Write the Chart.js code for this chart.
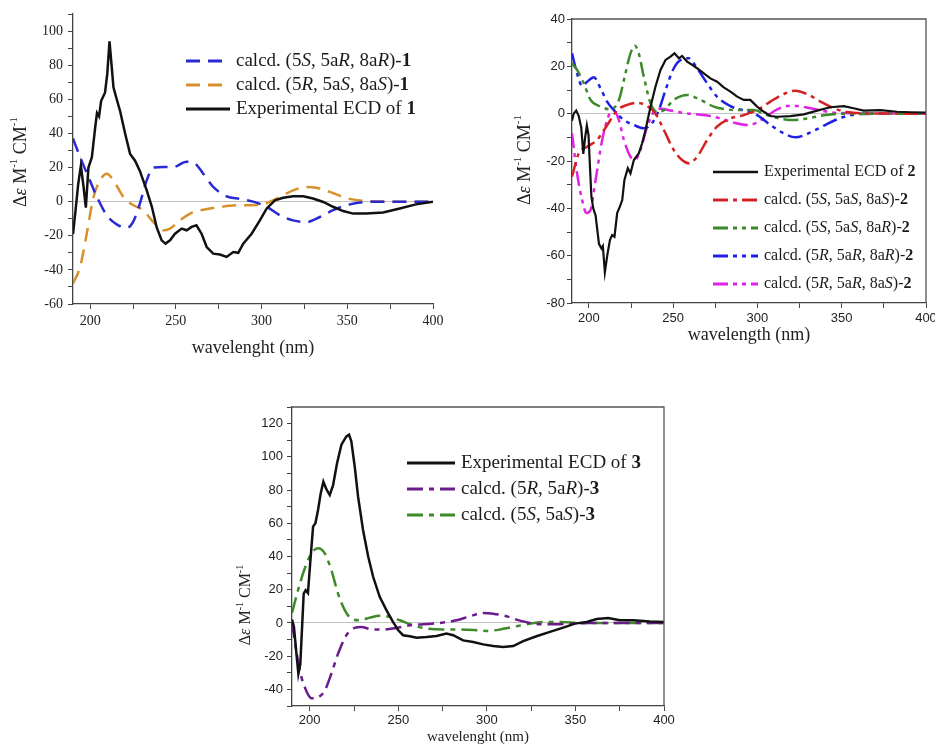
<!DOCTYPE html>
<html>
<head>
<meta charset="utf-8">
<script src="https://cdn.jsdelivr.net/npm/chart.js@4.4.1/dist/chart.umd.min.js"></script>
<style>
body { margin: 0; width: 935px; height: 746px; background: #fff; position: relative; overflow: hidden; }
canvas { position: absolute; }
#c1 { left: 0; top: 0; }
#c2 { left: 470px; top: 0; }
#c3 { left: 230px; top: 395px; }
</style>
</head>
<body>
<canvas id="c1" width="460" height="360"></canvas>
<canvas id="c2" width="470" height="347"></canvas>
<canvas id="c3" width="460" height="351"></canvas>
<script>
// tick values (labels shown every 20 on y, every 50 on x)
const xTicks = [200, 225, 250, 275, 300, 325, 350, 375, 400];
const yTicks1 = [-60, -50, -40, -30, -20, -10, 0, 10, 20, 30, 40, 50, 60, 70, 80, 90, 100, 110];
const yTicks2 = [-80, -70, -60, -50, -40, -30, -20, -10, 0, 10, 20, 30, 40];
const yTicks3 = [-50, -40, -30, -20, -10, 0, 10, 20, 30, 40, 50, 60, 70, 80, 90, 100, 110, 120, 130];

// compound 1  [wavelength, delta eps]
const exp1 = [[190,-19],[191.5,-5],[193,10],[194.6,21],[196,10],[197.5,-3.5],[199,20],[201,26],[203,44],[204,52],[205.2,50],[206.4,59],[208.7,64],[210,75],[211.3,94],[212.5,80],[213.6,67],[215.5,60],[217.5,53],[220.4,40],[223.3,28],[226.2,24],[229,18],[233,6.6],[236,-3],[238.8,-15],[241.7,-22.7],[244,-24.6],[246.6,-22.7],[249.5,-18.8],[253.4,-15.8],[256.3,-16.8],[259.2,-14.8],[262,-13.9],[265,-18.8],[268,-26.6],[271.8,-30.5],[275.7,-31],[279.6,-32.4],[283.5,-29.5],[286.4,-30],[289.3,-24.6],[294.2,-18.8],[299,-11],[303,-4],[307.8,0.8],[312.6,2.3],[318.4,3.1],[324.3,3.1],[330,1.8],[336,-0.2],[341.7,-3],[347.6,-5.5],[353.4,-7],[361,-7],[370.9,-6.4],[380.6,-4],[390,-1.6],[400,0]];
const calc1a = [[190,37],[194.2,26],[199,14.5],[204,2.7],[209.7,-8],[215.5,-13.3],[221.4,-15.4],[225,-12],[229,-1.2],[233,12.5],[236.9,20],[242.7,20.3],[248.5,20.3],[256.3,23.4],[260.2,23],[266,16.4],[271.8,8.6],[279.6,3.1],[287.4,1.6],[295.1,0],[303,-3],[310.7,-8],[318.4,-11],[326.2,-12],[334,-9],[341.7,-5],[351.5,-1.6],[361,-0.2],[380,0],[400,0]];
const calc1b = [[190,-48],[194.2,-38],[198,-18.8],[202,2.7],[205.8,12.5],[209.7,16.4],[213.6,12.5],[219.4,2.7],[225,-2],[231,-5],[236.9,-12],[242.7,-16.8],[246.6,-15.8],[252.4,-11],[258.3,-7],[266,-4.7],[275.7,-3.1],[287.4,-2.1],[299,-2],[304.9,0],[310.7,2.7],[318.4,6.6],[326.2,8.6],[332,8.2],[339.8,5.7],[349.5,2.1],[361,0.4],[380,0],[400,0]];

// compound 2
const exp2 = [[190,-3],[191,0],[192.5,1.3],[194,-1],[195.5,-6],[196.7,-17],[197.8,-10],[198.8,-5],[199.8,-9],[200.5,-20],[201.5,-35],[202.6,-40],[204,-43],[206,-55],[207.5,-57],[208.3,-56],[209.5,-67],[210.9,-60],[212.5,-53.4],[213.8,-51.3],[215.2,-52],[216.8,-42],[218.4,-39.3],[219.8,-36.5],[221.1,-28],[223.1,-23],[224.7,-25.2],[226.7,-19.6],[229.6,-16.8],[231.6,-12.5],[233.6,-6.9],[236.6,3],[239.5,11.4],[242.5,18.5],[245.5,22.7],[248.4,24.1],[250.8,25.5],[253.4,23.4],[255.3,24.4],[258.3,22],[261.3,20.6],[264.2,19.2],[268.2,17],[272.1,14.9],[276.1,13.5],[280,11.1],[284,9.3],[288,7.2],[291.9,5.8],[295.8,5.8],[299.8,3],[303.8,0.8],[307.7,-1],[311.7,-1.3],[319.6,-1],[327.5,-0.3],[335.4,1.3],[343.3,2.7],[351.2,3.2],[357,2.3],[363,1.3],[372.9,1.5],[382.8,0.8],[390.7,0.6],[400,0.4]];
const calc2a = [[190,-26.6],[194,-16.8],[199,-14],[205,-11],[209,-6.9],[212.8,-2.7],[216.8,1.5],[222.7,3.7],[228.7,4.6],[234.6,3.2],[239.5,0],[244.5,-6.9],[250.4,-15.4],[255.3,-19.6],[259.3,-21],[264.2,-18.2],[270.2,-11.1],[276,-5.5],[284,-2],[291.9,-0.6],[299.8,1.5],[307.7,5.1],[315.6,8.3],[322.5,9.7],[329.4,8.3],[337.4,5.1],[345.3,2.3],[353.2,0.7],[367,0.1],[400,0]];
const calc2b = [[190,21.3],[193,18.5],[197,12.8],[201,5.8],[207,3],[212.8,1.8],[217.8,5.8],[221.7,17],[224.7,25.5],[227.3,28.7],[229.6,25.5],[232.6,15.6],[236.6,4.4],[240.5,0.8],[244.5,1.5],[250.4,5.8],[258.3,7.9],[266.2,5.8],[274.1,3],[282,1.8],[289.9,1.5],[297.8,1.5],[305.7,-0.6],[313.6,-2.1],[321.5,-2.7],[329.4,-2],[339.3,-0.7],[351,0],[400,0]];
const calc2c = [[190,25.5],[193,17],[196,11.7],[199,13.5],[203,15.4],[206.9,10.7],[210.9,5],[214.8,1.5],[220.8,-2.7],[226.7,-4.8],[232.6,-6.2],[237.5,-4],[241.5,1.5],[245.5,10],[250.4,19.2],[255.3,23],[259.3,23.4],[264.2,19.2],[270.2,12.8],[276,7.2],[284,3.2],[291.9,1.3],[299.8,-0.6],[307.7,-4.8],[315.6,-8.3],[322.5,-10],[329.4,-8.6],[337.4,-5.8],[345.3,-3],[353.2,-1],[363,-0.1],[400,0]];
const calc2d = [[190,-8.3],[193,-25.2],[196,-36.5],[198.6,-42],[201,-40.7],[204,-28],[207.9,-11.1],[211.9,-0.6],[214.8,1.5],[217.8,-2.7],[220.8,-11.1],[224.7,-18.2],[227.7,-19.3],[230.6,-15.4],[234.6,-5.5],[238.5,0.7],[242.5,2.1],[248.4,1.3],[258.3,0.1],[268.2,-0.6],[278,-2],[286,-3.8],[293.9,-4.8],[299.8,-3.8],[305.7,-1],[311.7,1.8],[317.6,3.2],[323.5,3.2],[331.4,2.3],[339.3,1.1],[347.2,0.3],[400,0]];

// compound 3
const exp3 = [[190,2],[191.1,-2.4],[192.5,-18.5],[193.6,-30.6],[194.7,-24.6],[195.7,-2.4],[196.6,17.7],[197.7,19.7],[199,18],[200.4,37.8],[201.9,58],[203.2,60],[204.7,68],[206.2,78],[207.7,85],[209.4,80.5],[211.3,77],[213.2,83],[215.4,96],[217.9,107.3],[220.7,112.3],[222.2,113.3],[223.5,109.3],[225.4,94.2],[227.3,76],[230.1,56],[233,40],[235.8,27.8],[239.5,15.7],[243.3,7.7],[247,0.6],[250,-4.4],[252.7,-7.4],[256.5,-8],[260.3,-8.9],[265.9,-8.5],[271.6,-7.8],[277.2,-6.4],[281,-7.4],[286.6,-10.5],[292.3,-11.5],[297.9,-12.9],[303.6,-13.9],[309.2,-14.5],[314.9,-13.9],[320.5,-10.9],[328,-8],[335.6,-5.4],[343.1,-2.8],[349.7,-0.4],[356.3,0.6],[362,2.4],[368.5,3],[375.1,1.6],[382.7,1.6],[392,0.8],[400,0.6]];
const calc3a = [[190,0.6],[191.5,-10.5],[194.4,-28.6],[197.2,-38.7],[201,-45.3],[204.7,-44.7],[208.5,-40.7],[212.2,-30.6],[216,-18.5],[220.7,-7.4],[225.4,-3],[229.2,-2.4],[233.9,-3.6],[241.4,-4],[249,-3],[256.5,-1.4],[264,-0.8],[273.4,0],[282.9,1.6],[290.4,4],[297.9,6],[303.6,5.6],[311.1,4],[316.8,2],[324.3,0],[331.8,-0.8],[339.4,-0.8],[348.8,-0.4],[358.2,0],[400,0]];
const calc3b = [[190,6],[193.4,19.7],[197.2,32.8],[201,41.9],[204.7,44.9],[208.5,41.9],[212.2,31.8],[216,17.7],[219.8,7.7],[223.5,2.6],[228.2,1.6],[233.9,3.2],[239.5,4.4],[245.2,3.6],[250.8,1.6],[258.4,-1.4],[265.9,-3.4],[275.3,-4],[284.7,-4],[294.2,-4.4],[299.8,-4.8],[307.3,-4],[314.9,-2.4],[322.4,-0.8],[331.8,0.6],[341.2,0.6],[354.4,0],[400,0]];

const SERIF = 'Liberation Serif';
const SANS = 'Liberation Sans';

// {x} italic, [x] bold, <x> superscript
function parseRich(str) {
    const out = [];
    const re = /\{([^}]*)\}|\[([^\]]*)\]|<([^>]*)>|([^{\[<]+)/g;
    let m;
    while ((m = re.exec(str))) {
        if (m[1] !== undefined) out.push({ t: m[1], s: 'i' });
        else if (m[2] !== undefined) out.push({ t: m[2], s: 'b' });
        else if (m[3] !== undefined) out.push({ t: m[3], s: 'sup' });
        else out.push({ t: m[4], s: '' });
    }
    return out;
}

function drawRich(ctx, str, x, y, size, fam, draw) {
    parseRich(str).forEach(p => {
        let fs = size, dy = 0, st = '';
        if (p.s === 'i') st = 'italic ';
        if (p.s === 'b') st = 'bold ';
        if (p.s === 'sup') { fs = Math.round(size * 0.62); dy = -size * 0.36; }
        ctx.font = st + fs + 'px "' + fam + '"';
        if (draw) ctx.fillText(p.t, x, y + dy);
        x += ctx.measureText(p.t).width;
    });
    return x;
}

const decor = {
    id: 'decor',
    afterDraw(chart, args, o) {
        const ctx = chart.ctx, a = chart.chartArea;
        ctx.save();
        if (o.box) {
            ctx.strokeStyle = '#555';
            ctx.lineWidth = 1.3;
            ctx.beginPath();
            ctx.moveTo(a.left, a.top);
            ctx.lineTo(a.right, a.top);
            ctx.lineTo(a.right, a.bottom);
            ctx.stroke();
        }
        // rotated y title
        ctx.fillStyle = '#222';
        ctx.textBaseline = 'middle';
        ctx.translate(o.yTitleX, o.yTitleY);
        ctx.rotate(-Math.PI / 2);
        const w = drawRich(ctx, o.yTitle, 0, 0, o.yTitleSize, SERIF, false);
        drawRich(ctx, o.yTitle, -w / 2, 0, o.yTitleSize, SERIF, true);
        ctx.restore();

        // legend
        ctx.save();
        ctx.textBaseline = 'middle';
        o.order.forEach((di, i) => {
            const ds = chart.data.datasets[di];
            const y = o.legY + i * o.legGap;
            ctx.strokeStyle = ds.borderColor;
            ctx.lineWidth = ds.borderWidth + 0.5;
            ctx.setLineDash(ds.borderDash || []);
            ctx.beginPath();
            ctx.moveTo(o.legX, y);
            ctx.lineTo(o.legX + o.legLen, y);
            ctx.stroke();
            ctx.setLineDash([]);
            ctx.fillStyle = '#1a1a1a';
            drawRich(ctx, ds.label, o.legX + o.legLen + 6, y, o.legSize, SERIF, true);
        });
        ctx.restore();
    }
};

function line(label, pts, color, width, dash, smooth) {
    return {
        label: label,
        data: pts.map(p => ({ x: p[0], y: p[1] })),
        borderColor: color,
        borderWidth: width,
        borderDash: dash,
        pointRadius: 0,
        tension: 0,
        cubicInterpolationMode: smooth ? 'monotone' : 'default',
        fill: false
    };
}

function axes(s) {
    return {
        x: {
            type: 'linear', min: 190, max: 400,
            afterBuildTicks: sc => { sc.ticks = xTicks.map(v => ({ value: v })); },
            afterFit: sc => { sc.height = s.xH; },
            ticks: { autoSkip: false, maxRotation: 0, padding: s.xPad, color: '#222',
                font: { family: s.tickFam, size: s.tickSize },
                callback: v => v % 50 === 0 ? v : '' },
            grid: { drawOnChartArea: false, tickColor: '#444', tickLength: 5 },
            border: { display: true, color: '#444', width: 1.3 },
            title: { display: true, text: s.xTitle, color: '#222',
                font: { family: SERIF, size: s.xTitleSize }, padding: { top: 0, bottom: s.xTitlePad } }
        },
        y: {
            type: 'linear', min: s.yTicks[0], max: s.yTicks[s.yTicks.length - 1],
            afterBuildTicks: sc => { sc.ticks = s.yTicks.map(v => ({ value: v })); },
            afterFit: sc => { sc.width = s.yW; },
            ticks: { autoSkip: false, padding: s.yPad, color: '#222',
                font: { family: s.tickFam, size: s.tickSize },
                callback: v => v % 20 === 0 ? v : '' },
            grid: { drawOnChartArea: true, tickColor: '#444', tickLength: 5, lineWidth: 1,
                color: c => c.tick && c.tick.value === 0 ? '#c2c2c2' : 'rgba(0,0,0,0)' },
            border: { display: true, color: '#444', width: 1.3 }
        }
    };
}

Chart.defaults.animation = false;

new Chart(document.getElementById('c1'), {
    type: 'line',
    data: {
        datasets: [
            line('Experimental ECD of [1]', exp1, '#111111', 2.5, [], false),
            line('calcd. (5{S}, 5a{R}, 8a{R})-[1]', calc1a, '#2a2ad2', 2.5, [14, 8], true),
            line('calcd. (5{R}, 5a{S}, 8a{S})-[1]', calc1b, '#d8902c', 2.5, [14, 8], true)
        ]
    },
    options: {
        responsive: false,
        layout: { padding: { left: 0, right: 27, top: 14, bottom: 0 } },
        scales: axes({ xH: 56, yW: 73, xPad: 4, yPad: 5, tickFam: SERIF, tickSize: 14,
            xTitle: 'wavelenght (nm)', xTitleSize: 18, xTitlePad: 1, yTicks: yTicks1 }),
        plugins: {
            legend: { display: false }, tooltip: { enabled: false },
            decor: { box: false, yTitle: 'Δ{ε} M<-1> CM<-1>', yTitleX: 21, yTitleY: 162, yTitleSize: 18,
                order: [1, 2, 0], legX: 186, legY: 61, legGap: 24, legLen: 44, legSize: 19 }
        }
    },
    plugins: [decor]
});

new Chart(document.getElementById('c2'), {
    type: 'line',
    data: {
        datasets: [
            line('Experimental ECD of [2]', exp2, '#111111', 2.2, [], false),
            line('calcd. (5{S}, 5a{S}, 8a{S})-[2]', calc2a, '#d42222', 2.5, [15, 5, 4, 5], true),
            line('calcd. (5{S}, 5a{S}, 8a{R})-[2]', calc2b, '#3d8a2a', 2.5, [15, 5, 4, 5, 4, 5], true),
            line('calcd. (5{R}, 5a{R}, 8a{R})-[2]', calc2c, '#2020e0', 2.5, [15, 5, 4, 5, 4, 5], true),
            line('calcd. (5{R}, 5a{R}, 8a{S})-[2]', calc2d, '#e022e6', 2.5, [15, 5, 4, 5, 4, 5], true)
        ]
    },
    options: {
        responsive: false,
        layout: { padding: { left: 0, right: 14, top: 19, bottom: 0 } },
        scales: axes({ xH: 44, yW: 102, xPad: 3, yPad: 2, tickFam: SANS, tickSize: 13,
            xTitle: 'wavelength (nm)', xTitleSize: 18, xTitlePad: 1, yTicks: yTicks2 }),
        plugins: {
            legend: { display: false }, tooltip: { enabled: false },
            decor: { box: true, yTitle: 'Δ{ε} M<-1> CM<-1>', yTitleX: 55, yTitleY: 160, yTitleSize: 18,
                order: [0, 1, 2, 3, 4], legX: 243, legY: 172, legGap: 28, legLen: 45, legSize: 16 }
        }
    },
    plugins: [decor]
});

new Chart(document.getElementById('c3'), {
    type: 'line',
    data: {
        datasets: [
            line('Experimental ECD of [3]', exp3, '#111111', 2.5, [], false),
            line('calcd. (5{R}, 5a{R})-[3]', calc3a, '#6b1c8c', 2.5, [16, 6, 5, 6], true),
            line('calcd. (5{S}, 5a{S})-[3]', calc3b, '#3f8a28', 2.5, [16, 6, 5, 6], true)
        ]
    },
    options: {
        responsive: false,
        layout: { padding: { left: 0, right: 26, top: 12, bottom: 0 } },
        scales: axes({ xH: 40, yW: 62, xPad: 2, yPad: 4, tickFam: SANS, tickSize: 13,
            xTitle: 'wavelenght (nm)', xTitleSize: 15, xTitlePad: 0, yTicks: yTicks3 }),
        plugins: {
            legend: { display: false }, tooltip: { enabled: false },
            decor: { box: true, yTitle: 'Δ{ε} M<-1> CM<-1>', yTitleX: 16, yTitleY: 210, yTitleSize: 16,
                order: [0, 1, 2], legX: 177, legY: 68, legGap: 26, legLen: 48, legSize: 19 }
        }
    },
    plugins: [decor]
});
</script>
</body>
</html>
